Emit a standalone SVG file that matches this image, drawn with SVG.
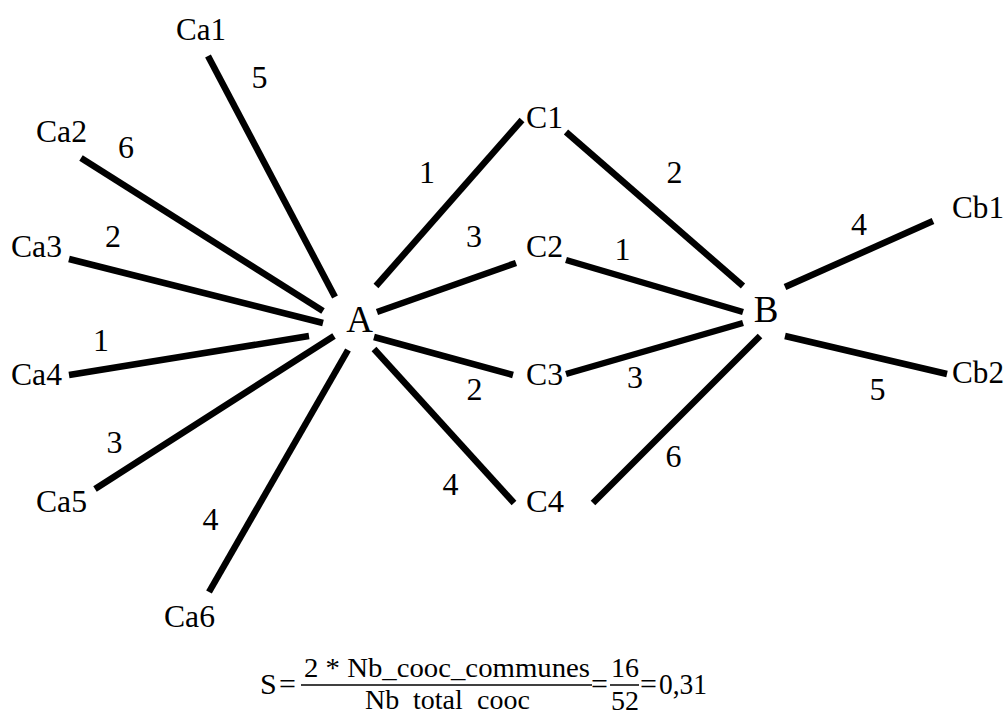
<svg xmlns="http://www.w3.org/2000/svg" width="1007" height="715" viewBox="0 0 1007 715" font-family="Liberation Serif, Times New Roman, DejaVu Serif, serif">
<style>
text{font-family:'Liberation Serif','Times New Roman','DejaVu Serif',serif;fill:#000}
.lbl{font-size:32px}
.hub{font-size:37px;text-anchor:middle}
.w{font-size:32px;text-anchor:middle}
.f{font-size:28px}
.g{font-size:30px}
.edge line{stroke:#000;stroke-width:6.5;stroke-linecap:butt}
</style>
<rect width="1007" height="715" fill="#fff"/>
<g id="connectors" class="edge">
<line x1="208" y1="56" x2="335" y2="297"/>
<line x1="81" y1="158" x2="323" y2="311"/>
<line x1="69" y1="259" x2="323" y2="323"/>
<line x1="69" y1="375" x2="309" y2="336"/>
<line x1="95" y1="489" x2="334" y2="336"/>
<line x1="209" y1="592" x2="348" y2="350"/>
<line x1="376" y1="286" x2="522" y2="120"/>
<line x1="377" y1="312" x2="516" y2="263"/>
<line x1="374" y1="337" x2="513" y2="375"/>
<line x1="374" y1="349" x2="514" y2="503"/>
<line x1="566" y1="132" x2="743" y2="286"/>
<line x1="566" y1="260" x2="743" y2="312"/>
<line x1="566" y1="374" x2="743" y2="323"/>
<line x1="593" y1="503" x2="760" y2="336"/>
<line x1="785" y1="287" x2="933" y2="221"/>
<line x1="785" y1="336" x2="947" y2="374"/>
</g>
<g id="weights">
<text class="w" x="259.5" y="88">5</text>
<text class="w" x="126" y="158">6</text>
<text class="w" x="113" y="247">2</text>
<text class="w" x="101" y="351">1</text>
<text class="w" x="114.5" y="453">3</text>
<text class="w" x="210.5" y="530">4</text>
<text class="w" x="427" y="183">1</text>
<text class="w" x="474" y="247">3</text>
<text class="w" x="474.5" y="400">2</text>
<text class="w" x="450.5" y="495">4</text>
<text class="w" x="674.5" y="183">2</text>
<text class="w" x="622.5" y="260">1</text>
<text class="w" x="635" y="388">3</text>
<text class="w" x="673.5" y="467">6</text>
<text class="w" x="859" y="235">4</text>
<text class="w" x="877.5" y="400">5</text>
</g>
<g id="A"><text class="hub" x="359.5" y="332">A</text></g>
<g id="B"><text class="hub" x="766" y="322">B</text></g>
<g id="Ca1"><text class="lbl" x="176" y="40" textLength="50" lengthAdjust="spacingAndGlyphs">Ca1</text></g>
<g id="Ca2"><text class="lbl" x="36" y="142" textLength="51" lengthAdjust="spacingAndGlyphs">Ca2</text></g>
<g id="Ca3"><text class="lbl" x="11" y="257" textLength="51" lengthAdjust="spacingAndGlyphs">Ca3</text></g>
<g id="Ca4"><text class="lbl" x="11" y="385" textLength="51" lengthAdjust="spacingAndGlyphs">Ca4</text></g>
<g id="Ca5"><text class="lbl" x="36" y="512" textLength="51" lengthAdjust="spacingAndGlyphs">Ca5</text></g>
<g id="Ca6"><text class="lbl" x="164" y="627" textLength="51" lengthAdjust="spacingAndGlyphs">Ca6</text></g>
<g id="C1"><text class="lbl" x="526" y="128" textLength="37" lengthAdjust="spacingAndGlyphs">C1</text></g>
<g id="C2"><text class="lbl" x="526" y="257" textLength="37" lengthAdjust="spacingAndGlyphs">C2</text></g>
<g id="C3"><text class="lbl" x="526" y="385" textLength="37" lengthAdjust="spacingAndGlyphs">C3</text></g>
<g id="C4"><text class="lbl" x="526" y="512" textLength="38" lengthAdjust="spacingAndGlyphs">C4</text></g>
<g id="Cb1"><text class="lbl" x="952" y="218" textLength="52" lengthAdjust="spacingAndGlyphs">Cb1</text></g>
<g id="Cb2"><text class="lbl" x="952" y="383" textLength="52" lengthAdjust="spacingAndGlyphs">Cb2</text></g>
<g id="formula">
<text class="g" x="260" y="694">S</text>
<text class="g" x="279" y="694">=</text>
<text class="f" x="304" y="677" textLength="286" lengthAdjust="spacingAndGlyphs">2 * Nb_cooc_communes</text>
<line x1="301" y1="685" x2="592" y2="685" stroke="#000" stroke-width="1.5"/>
<text class="f" y="709"><tspan x="365">Nb</tspan><tspan x="413">total</tspan><tspan x="477">cooc</tspan></text>
<text class="g" x="591" y="694">=</text>
<text class="f" x="611" y="677">16</text>
<line x1="610" y1="685" x2="639" y2="685" stroke="#000" stroke-width="1.5"/>
<text class="f" x="611" y="710">52</text>
<text class="g" x="640" y="694">=</text>
<text class="g" x="659" y="694" textLength="48" lengthAdjust="spacingAndGlyphs">0,31</text>
</g>
</svg>
